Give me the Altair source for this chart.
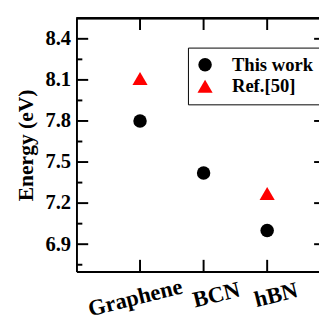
import altair as alt
import pandas as pd

materials = ["Graphene", "BCN", "hBN"]
positions = [1, 2, 3]
this_work = [7.80, 7.42, 7.00]
ref50 = [8.11, None, 7.27]
series_names = ["This work", "Ref.[50]"]
y_major = [6.9, 7.2, 7.5, 7.8, 8.1, 8.4]
y_minor = [6.75, 7.05, 7.35, 7.65, 7.95, 8.25]

W, H = 248, 259
FONT = "Liberation Serif"

rows = []
for m, p, a, b in zip(materials, positions, this_work, ref50):
    rows.append({"material": m, "pos": p, "energy": a, "series": series_names[0]})
    if b is not None:
        rows.append({"material": m, "pos": p, "energy": b, "series": series_names[1]})
df = pd.DataFrame(rows)

label_expr = " : ".join(
    [f"datum.value == {p} ? '{m}'" for p, m in zip(positions[:-1], materials[:-1])]
) + f" : '{materials[-1]}'"

xscale = alt.Scale(domain=[0, W / 65], nice=False, zero=False)
yscale = alt.Scale(domain=[6.7, 8.55], nice=False, zero=False)

points = alt.Chart(df).mark_point(filled=True, opacity=1).encode(
    x=alt.X("pos:Q", scale=xscale,
            axis=alt.Axis(values=positions, labelExpr=label_expr, ticks=False, grid=False,
                          domainColor="black", domainWidth=2, labelAngle=-14,
                          labelAlign="center", labelBaseline="top",
                          labelPadding={"condition": {"test": "datum.value == 1", "value": 16}, "value": 13},
                          labelOffset={"condition": [{"test": "datum.value == 1", "value": -8},
                                                     {"test": "datum.value == 2", "value": 10}],
                                       "value": 6},
                          labelOverlap=False, labelBound=False,
                          labelFont=FONT, labelFontSize=23, labelFontWeight="bold",
                          labelColor="black", title=None)),
    y=alt.Y("energy:Q", scale=yscale,
            axis=alt.Axis(values=y_major, format=".1f", ticks=False, grid=False,
                          domainColor="black", domainWidth=2, labelPadding=6,
                          labelOverlap=False,
                          labelFont=FONT, labelFontSize=21, labelFontWeight="bold",
                          labelColor="black", title="Energy (eV)", titleFont=FONT,
                          titleFontSize=22, titleFontWeight="bold", titleColor="black",
                          titlePadding=8)),
    color=alt.Color("series:N", scale=alt.Scale(domain=series_names, range=["black", "red"]),
                    legend=alt.Legend(title=None, orient="none", legendX=114, legendY=30,
                                      strokeColor="black", fillColor="white",
                                      padding=8, labelFont=FONT, labelFontSize=19,
                                      labelFontWeight="bold", labelColor="black",
                                      symbolSize=170, labelOffset=18, rowPadding=2,
                                      symbolStrokeWidth=0)),
    shape=alt.Shape("series:N", scale=alt.Scale(domain=series_names, range=["circle", "triangle-up"]),
                    legend=None),
    size=alt.Size("series:N", scale=alt.Scale(domain=series_names, range=[190, 240]),
                  legend=None),
)

ymaj_df = pd.DataFrame({"v": y_major})
ymin_df = pd.DataFrame({"v": y_minor})
x_df = pd.DataFrame({"pos": positions})

left_major = alt.Chart(ymaj_df).mark_rule(color="black", strokeWidth=2).encode(
    y=alt.Y("v:Q", scale=yscale), x=alt.value(0), x2=alt.value(12))
left_minor = alt.Chart(ymin_df).mark_rule(color="black", strokeWidth=2).encode(
    y=alt.Y("v:Q", scale=yscale), x=alt.value(0), x2=alt.value(6))
right_major = alt.Chart(ymaj_df).mark_rule(color="black", strokeWidth=2).encode(
    y=alt.Y("v:Q", scale=yscale), x=alt.value(W - 5), x2=alt.value(W))
bottom_ticks = alt.Chart(x_df).mark_rule(color="black", strokeWidth=2).encode(
    x=alt.X("pos:Q", scale=xscale), y=alt.value(H), y2=alt.value(H - 12))
top_ticks = alt.Chart(x_df).mark_rule(color="black", strokeWidth=2).encode(
    x=alt.X("pos:Q", scale=xscale), y=alt.value(0), y2=alt.value(12))
top_line = alt.Chart(x_df).mark_rule(color="black", strokeWidth=2).encode(
    x=alt.value(0), x2=alt.value(W), y=alt.value(0))

chart = alt.layer(
    left_major, left_minor, right_major, bottom_ticks, top_ticks, top_line, points
).properties(
    width=W, height=H,
    autosize=alt.AutoSizeParams(type="none"),
    padding={"left": 70, "top": 7, "right": 0, "bottom": 46},
).configure_view(stroke=None).configure_legend(strokeWidth=2).configure(background="white")

chart.save("out.html", embed_options={"renderer": "svg", "actions": False})
